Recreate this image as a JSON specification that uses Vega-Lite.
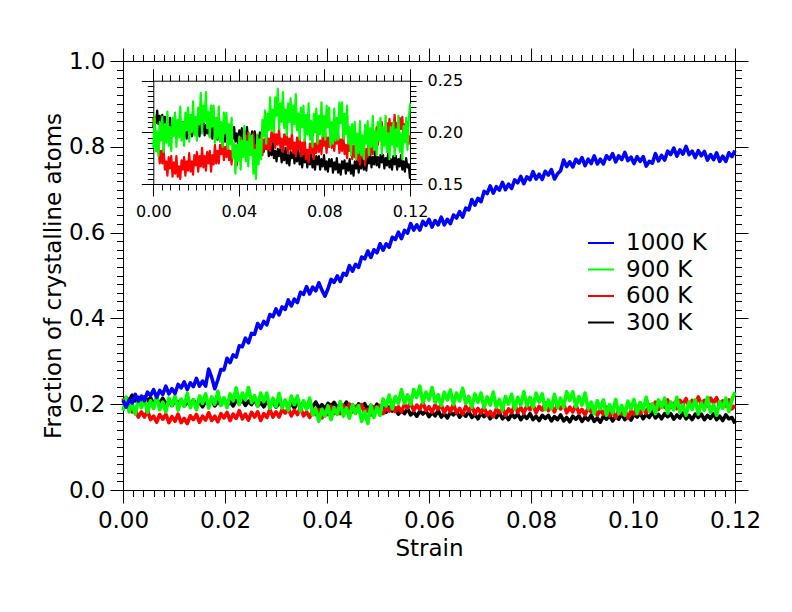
{
  "$schema": "https://vega.github.io/schema/vega-lite/v6.json",
  "width": 612,
  "height": 429,
  "autosize": {"type": "none"},
  "padding": {"left": 123, "top": 61, "right": 57, "bottom": 122},
  "background": "white",
  "config": {
    "view": {"stroke": null},
    "font": "DejaVu Sans",
    "axis": {
      "grid": false,
      "labelFlush": false,
      "labelOverlap": false,
      "labelBound": false,
      "domainColor": "#000000",
      "tickColor": "#000000",
      "labelColor": "#000000",
      "titleColor": "#000000",
      "labelFont": "DejaVu Sans",
      "titleFont": "DejaVu Sans",
      "titleFontWeight": "normal",
      "domainWidth": 1,
      "tickWidth": 1
    }
  },
  "data": {
    "values": [
      {"strain": 0, "1000 K": 0.209, "900 K": 0.185, "600 K": 0.214, "300 K": 0.205},
      {"strain": 0.0006, "1000 K": 0.193, "900 K": 0.216, "600 K": 0.200, "300 K": 0.215},
      {"strain": 0.0012, "1000 K": 0.210, "900 K": 0.182, "600 K": 0.196, "300 K": 0.209},
      {"strain": 0.0018, "1000 K": 0.203, "900 K": 0.201, "600 K": 0.182, "300 K": 0.221},
      {"strain": 0.0024, "1000 K": 0.223, "900 K": 0.177, "600 K": 0.186, "300 K": 0.208},
      {"strain": 0.003, "1000 K": 0.207, "900 K": 0.210, "600 K": 0.170, "300 K": 0.216},
      {"strain": 0.0036, "1000 K": 0.219, "900 K": 0.192, "600 K": 0.182, "300 K": 0.205},
      {"strain": 0.0042, "1000 K": 0.208, "900 K": 0.215, "600 K": 0.170, "300 K": 0.217},
      {"strain": 0.0048, "1000 K": 0.228, "900 K": 0.181, "600 K": 0.185, "300 K": 0.208},
      {"strain": 0.0054, "1000 K": 0.220, "900 K": 0.208, "600 K": 0.164, "300 K": 0.215},
      {"strain": 0.006, "1000 K": 0.234, "900 K": 0.190, "600 K": 0.172, "300 K": 0.201},
      {"strain": 0.0066, "1000 K": 0.216, "900 K": 0.220, "600 K": 0.158, "300 K": 0.210},
      {"strain": 0.0072, "1000 K": 0.232, "900 K": 0.187, "600 K": 0.176, "300 K": 0.203},
      {"strain": 0.0078, "1000 K": 0.223, "900 K": 0.205, "600 K": 0.165, "300 K": 0.214},
      {"strain": 0.0084, "1000 K": 0.242, "900 K": 0.182, "600 K": 0.177, "300 K": 0.200},
      {"strain": 0.009, "1000 K": 0.224, "900 K": 0.214, "600 K": 0.157, "300 K": 0.207},
      {"strain": 0.0096, "1000 K": 0.236, "900 K": 0.197, "600 K": 0.171, "300 K": 0.197},
      {"strain": 0.0102, "1000 K": 0.225, "900 K": 0.219, "600 K": 0.160, "300 K": 0.209},
      {"strain": 0.0108, "1000 K": 0.246, "900 K": 0.186, "600 K": 0.177, "300 K": 0.202},
      {"strain": 0.0114, "1000 K": 0.238, "900 K": 0.212, "600 K": 0.157, "300 K": 0.209},
      {"strain": 0.012, "1000 K": 0.252, "900 K": 0.195, "600 K": 0.167, "300 K": 0.196},
      {"strain": 0.0126, "1000 K": 0.234, "900 K": 0.225, "600 K": 0.155, "300 K": 0.206},
      {"strain": 0.0132, "1000 K": 0.250, "900 K": 0.192, "600 K": 0.173, "300 K": 0.199},
      {"strain": 0.0138, "1000 K": 0.241, "900 K": 0.210, "600 K": 0.164, "300 K": 0.210},
      {"strain": 0.0144, "1000 K": 0.260, "900 K": 0.187, "600 K": 0.176, "300 K": 0.196},
      {"strain": 0.015, "1000 K": 0.242, "900 K": 0.219, "600 K": 0.158, "300 K": 0.204},
      {"strain": 0.0156, "1000 K": 0.254, "900 K": 0.202, "600 K": 0.172, "300 K": 0.194},
      {"strain": 0.0162, "1000 K": 0.242, "900 K": 0.224, "600 K": 0.163, "300 K": 0.207},
      {"strain": 0.0168, "1000 K": 0.282, "900 K": 0.191, "600 K": 0.180, "300 K": 0.201},
      {"strain": 0.0174, "1000 K": 0.262, "900 K": 0.217, "600 K": 0.162, "300 K": 0.209},
      {"strain": 0.018, "1000 K": 0.236, "900 K": 0.200, "600 K": 0.172, "300 K": 0.196},
      {"strain": 0.0186, "1000 K": 0.257, "900 K": 0.230, "600 K": 0.159, "300 K": 0.206},
      {"strain": 0.0192, "1000 K": 0.281, "900 K": 0.197, "600 K": 0.178, "300 K": 0.199},
      {"strain": 0.0198, "1000 K": 0.280, "900 K": 0.215, "600 K": 0.168, "300 K": 0.212},
      {"strain": 0.0204, "1000 K": 0.307, "900 K": 0.192, "600 K": 0.181, "300 K": 0.198},
      {"strain": 0.021, "1000 K": 0.297, "900 K": 0.224, "600 K": 0.162, "300 K": 0.206},
      {"strain": 0.0216, "1000 K": 0.315, "900 K": 0.208, "600 K": 0.177, "300 K": 0.196},
      {"strain": 0.0222, "1000 K": 0.310, "900 K": 0.238, "600 K": 0.167, "300 K": 0.209},
      {"strain": 0.0228, "1000 K": 0.336, "900 K": 0.199, "600 K": 0.185, "300 K": 0.202},
      {"strain": 0.0234, "1000 K": 0.334, "900 K": 0.226, "600 K": 0.166, "300 K": 0.210},
      {"strain": 0.024, "1000 K": 0.354, "900 K": 0.210, "600 K": 0.177, "300 K": 0.197},
      {"strain": 0.0246, "1000 K": 0.343, "900 K": 0.239, "600 K": 0.163, "300 K": 0.207},
      {"strain": 0.0252, "1000 K": 0.365, "900 K": 0.204, "600 K": 0.181, "300 K": 0.199},
      {"strain": 0.0258, "1000 K": 0.363, "900 K": 0.220, "600 K": 0.170, "300 K": 0.211},
      {"strain": 0.0264, "1000 K": 0.388, "900 K": 0.195, "600 K": 0.182, "300 K": 0.196},
      {"strain": 0.027, "1000 K": 0.377, "900 K": 0.226, "600 K": 0.162, "300 K": 0.204},
      {"strain": 0.0276, "1000 K": 0.393, "900 K": 0.206, "600 K": 0.178, "300 K": 0.194},
      {"strain": 0.0282, "1000 K": 0.385, "900 K": 0.226, "600 K": 0.169, "300 K": 0.206},
      {"strain": 0.0288, "1000 K": 0.409, "900 K": 0.190, "600 K": 0.188, "300 K": 0.199},
      {"strain": 0.0294, "1000 K": 0.404, "900 K": 0.214, "600 K": 0.170, "300 K": 0.206},
      {"strain": 0.03, "1000 K": 0.422, "900 K": 0.194, "600 K": 0.182, "300 K": 0.193},
      {"strain": 0.0306, "1000 K": 0.408, "900 K": 0.225, "600 K": 0.170, "300 K": 0.203},
      {"strain": 0.0312, "1000 K": 0.427, "900 K": 0.191, "600 K": 0.188, "300 K": 0.196},
      {"strain": 0.0318, "1000 K": 0.421, "900 K": 0.210, "600 K": 0.179, "300 K": 0.207},
      {"strain": 0.0324, "1000 K": 0.443, "900 K": 0.186, "600 K": 0.191, "300 K": 0.193},
      {"strain": 0.033, "1000 K": 0.429, "900 K": 0.219, "600 K": 0.173, "300 K": 0.201},
      {"strain": 0.0336, "1000 K": 0.445, "900 K": 0.199, "600 K": 0.186, "300 K": 0.191},
      {"strain": 0.0342, "1000 K": 0.437, "900 K": 0.219, "600 K": 0.176, "300 K": 0.204},
      {"strain": 0.0348, "1000 K": 0.461, "900 K": 0.184, "600 K": 0.192, "300 K": 0.196},
      {"strain": 0.0354, "1000 K": 0.456, "900 K": 0.208, "600 K": 0.173, "300 K": 0.204},
      {"strain": 0.036, "1000 K": 0.474, "900 K": 0.188, "600 K": 0.182, "300 K": 0.191},
      {"strain": 0.0366, "1000 K": 0.457, "900 K": 0.214, "600 K": 0.169, "300 K": 0.201},
      {"strain": 0.0372, "1000 K": 0.473, "900 K": 0.175, "600 K": 0.186, "300 K": 0.194},
      {"strain": 0.0378, "1000 K": 0.464, "900 K": 0.189, "600 K": 0.176, "300 K": 0.205},
      {"strain": 0.0384, "1000 K": 0.483, "900 K": 0.160, "600 K": 0.187, "300 K": 0.191},
      {"strain": 0.039, "1000 K": 0.466, "900 K": 0.188, "600 K": 0.168, "300 K": 0.199},
      {"strain": 0.0396, "1000 K": 0.452, "900 K": 0.172, "600 K": 0.184, "300 K": 0.189},
      {"strain": 0.0402, "1000 K": 0.469, "900 K": 0.196, "600 K": 0.176, "300 K": 0.202},
      {"strain": 0.0408, "1000 K": 0.491, "900 K": 0.164, "600 K": 0.195, "300 K": 0.196},
      {"strain": 0.0414, "1000 K": 0.484, "900 K": 0.192, "600 K": 0.178, "300 K": 0.204},
      {"strain": 0.042, "1000 K": 0.499, "900 K": 0.176, "600 K": 0.190, "300 K": 0.191},
      {"strain": 0.0426, "1000 K": 0.486, "900 K": 0.206, "600 K": 0.178, "300 K": 0.201},
      {"strain": 0.0432, "1000 K": 0.505, "900 K": 0.172, "600 K": 0.197, "300 K": 0.193},
      {"strain": 0.0438, "1000 K": 0.501, "900 K": 0.191, "600 K": 0.187, "300 K": 0.205},
      {"strain": 0.0444, "1000 K": 0.523, "900 K": 0.167, "600 K": 0.200, "300 K": 0.190},
      {"strain": 0.045, "1000 K": 0.510, "900 K": 0.199, "600 K": 0.182, "300 K": 0.198},
      {"strain": 0.0456, "1000 K": 0.526, "900 K": 0.178, "600 K": 0.195, "300 K": 0.188},
      {"strain": 0.0462, "1000 K": 0.519, "900 K": 0.197, "600 K": 0.184, "300 K": 0.201},
      {"strain": 0.0468, "1000 K": 0.543, "900 K": 0.160, "600 K": 0.199, "300 K": 0.193},
      {"strain": 0.0474, "1000 K": 0.539, "900 K": 0.183, "600 K": 0.179, "300 K": 0.201},
      {"strain": 0.048, "1000 K": 0.557, "900 K": 0.155, "600 K": 0.188, "300 K": 0.188},
      {"strain": 0.0486, "1000 K": 0.542, "900 K": 0.198, "600 K": 0.175, "300 K": 0.197},
      {"strain": 0.0492, "1000 K": 0.560, "900 K": 0.169, "600 K": 0.194, "300 K": 0.189},
      {"strain": 0.0498, "1000 K": 0.553, "900 K": 0.193, "600 K": 0.184, "300 K": 0.200},
      {"strain": 0.0504, "1000 K": 0.574, "900 K": 0.174, "600 K": 0.197, "300 K": 0.185},
      {"strain": 0.051, "1000 K": 0.559, "900 K": 0.212, "600 K": 0.178, "300 K": 0.192},
      {"strain": 0.0516, "1000 K": 0.574, "900 K": 0.196, "600 K": 0.193, "300 K": 0.181},
      {"strain": 0.0522, "1000 K": 0.566, "900 K": 0.221, "600 K": 0.184, "300 K": 0.193},
      {"strain": 0.0528, "1000 K": 0.589, "900 K": 0.189, "600 K": 0.201, "300 K": 0.184},
      {"strain": 0.0534, "1000 K": 0.584, "900 K": 0.218, "600 K": 0.183, "300 K": 0.191},
      {"strain": 0.054, "1000 K": 0.601, "900 K": 0.202, "600 K": 0.194, "300 K": 0.177},
      {"strain": 0.0546, "1000 K": 0.586, "900 K": 0.234, "600 K": 0.182, "300 K": 0.186},
      {"strain": 0.0552, "1000 K": 0.605, "900 K": 0.202, "600 K": 0.200, "300 K": 0.178},
      {"strain": 0.0558, "1000 K": 0.599, "900 K": 0.222, "600 K": 0.191, "300 K": 0.190},
      {"strain": 0.0564, "1000 K": 0.621, "900 K": 0.200, "600 K": 0.203, "300 K": 0.175},
      {"strain": 0.057, "1000 K": 0.606, "900 K": 0.234, "600 K": 0.185, "300 K": 0.182},
      {"strain": 0.0576, "1000 K": 0.618, "900 K": 0.216, "600 K": 0.198, "300 K": 0.172},
      {"strain": 0.0582, "1000 K": 0.606, "900 K": 0.242, "600 K": 0.188, "300 K": 0.184},
      {"strain": 0.0588, "1000 K": 0.626, "900 K": 0.203, "600 K": 0.204, "300 K": 0.177},
      {"strain": 0.0594, "1000 K": 0.617, "900 K": 0.228, "600 K": 0.185, "300 K": 0.184},
      {"strain": 0.06, "1000 K": 0.631, "900 K": 0.210, "600 K": 0.194, "300 K": 0.171},
      {"strain": 0.0606, "1000 K": 0.613, "900 K": 0.239, "600 K": 0.181, "300 K": 0.181},
      {"strain": 0.0612, "1000 K": 0.628, "900 K": 0.204, "600 K": 0.198, "300 K": 0.173},
      {"strain": 0.0618, "1000 K": 0.618, "900 K": 0.222, "600 K": 0.188, "300 K": 0.185},
      {"strain": 0.0624, "1000 K": 0.636, "900 K": 0.197, "600 K": 0.199, "300 K": 0.170},
      {"strain": 0.063, "1000 K": 0.618, "900 K": 0.228, "600 K": 0.180, "300 K": 0.178},
      {"strain": 0.0636, "1000 K": 0.631, "900 K": 0.210, "600 K": 0.194, "300 K": 0.168},
      {"strain": 0.0642, "1000 K": 0.621, "900 K": 0.233, "600 K": 0.183, "300 K": 0.181},
      {"strain": 0.0648, "1000 K": 0.641, "900 K": 0.199, "600 K": 0.200, "300 K": 0.175},
      {"strain": 0.0654, "1000 K": 0.634, "900 K": 0.226, "600 K": 0.180, "300 K": 0.183},
      {"strain": 0.066, "1000 K": 0.649, "900 K": 0.208, "600 K": 0.190, "300 K": 0.170},
      {"strain": 0.0666, "1000 K": 0.636, "900 K": 0.237, "600 K": 0.177, "300 K": 0.179},
      {"strain": 0.0672, "1000 K": 0.657, "900 K": 0.202, "600 K": 0.195, "300 K": 0.172},
      {"strain": 0.0678, "1000 K": 0.653, "900 K": 0.218, "600 K": 0.184, "300 K": 0.183},
      {"strain": 0.0684, "1000 K": 0.677, "900 K": 0.193, "600 K": 0.196, "300 K": 0.169},
      {"strain": 0.069, "1000 K": 0.664, "900 K": 0.224, "600 K": 0.177, "300 K": 0.176},
      {"strain": 0.0696, "1000 K": 0.680, "900 K": 0.205, "600 K": 0.190, "300 K": 0.166},
      {"strain": 0.0702, "1000 K": 0.672, "900 K": 0.226, "600 K": 0.179, "300 K": 0.179},
      {"strain": 0.0708, "1000 K": 0.696, "900 K": 0.192, "600 K": 0.194, "300 K": 0.171},
      {"strain": 0.0714, "1000 K": 0.691, "900 K": 0.217, "600 K": 0.174, "300 K": 0.179},
      {"strain": 0.072, "1000 K": 0.709, "900 K": 0.198, "600 K": 0.183, "300 K": 0.166},
      {"strain": 0.0726, "1000 K": 0.692, "900 K": 0.228, "600 K": 0.171, "300 K": 0.176},
      {"strain": 0.0732, "1000 K": 0.707, "900 K": 0.193, "600 K": 0.189, "300 K": 0.169},
      {"strain": 0.0738, "1000 K": 0.699, "900 K": 0.211, "600 K": 0.180, "300 K": 0.180},
      {"strain": 0.0744, "1000 K": 0.717, "900 K": 0.186, "600 K": 0.192, "300 K": 0.166},
      {"strain": 0.075, "1000 K": 0.700, "900 K": 0.218, "600 K": 0.174, "300 K": 0.174},
      {"strain": 0.0756, "1000 K": 0.713, "900 K": 0.200, "600 K": 0.189, "300 K": 0.164},
      {"strain": 0.0762, "1000 K": 0.703, "900 K": 0.223, "600 K": 0.180, "300 K": 0.177},
      {"strain": 0.0768, "1000 K": 0.723, "900 K": 0.189, "600 K": 0.199, "300 K": 0.169},
      {"strain": 0.0774, "1000 K": 0.716, "900 K": 0.216, "600 K": 0.181, "300 K": 0.177},
      {"strain": 0.078, "1000 K": 0.731, "900 K": 0.198, "600 K": 0.192, "300 K": 0.164},
      {"strain": 0.0786, "1000 K": 0.714, "900 K": 0.229, "600 K": 0.179, "300 K": 0.174},
      {"strain": 0.0792, "1000 K": 0.730, "900 K": 0.196, "600 K": 0.197, "300 K": 0.167},
      {"strain": 0.0798, "1000 K": 0.723, "900 K": 0.216, "600 K": 0.187, "300 K": 0.178},
      {"strain": 0.0804, "1000 K": 0.742, "900 K": 0.193, "600 K": 0.199, "300 K": 0.164},
      {"strain": 0.081, "1000 K": 0.725, "900 K": 0.226, "600 K": 0.180, "300 K": 0.172},
      {"strain": 0.0816, "1000 K": 0.736, "900 K": 0.205, "600 K": 0.195, "300 K": 0.162},
      {"strain": 0.0822, "1000 K": 0.724, "900 K": 0.224, "600 K": 0.186, "300 K": 0.174},
      {"strain": 0.0828, "1000 K": 0.743, "900 K": 0.187, "600 K": 0.203, "300 K": 0.167},
      {"strain": 0.0834, "1000 K": 0.734, "900 K": 0.210, "600 K": 0.185, "300 K": 0.174},
      {"strain": 0.084, "1000 K": 0.747, "900 K": 0.189, "600 K": 0.196, "300 K": 0.161},
      {"strain": 0.0846, "1000 K": 0.725, "900 K": 0.223, "600 K": 0.182, "300 K": 0.171},
      {"strain": 0.0852, "1000 K": 0.737, "900 K": 0.192, "600 K": 0.199, "300 K": 0.164},
      {"strain": 0.0858, "1000 K": 0.744, "900 K": 0.214, "600 K": 0.189, "300 K": 0.175},
      {"strain": 0.0864, "1000 K": 0.769, "900 K": 0.193, "600 K": 0.200, "300 K": 0.161},
      {"strain": 0.087, "1000 K": 0.754, "900 K": 0.229, "600 K": 0.180, "300 K": 0.169},
      {"strain": 0.0876, "1000 K": 0.765, "900 K": 0.209, "600 K": 0.193, "300 K": 0.159},
      {"strain": 0.0882, "1000 K": 0.753, "900 K": 0.229, "600 K": 0.182, "300 K": 0.172},
      {"strain": 0.0888, "1000 K": 0.771, "900 K": 0.194, "600 K": 0.199, "300 K": 0.165},
      {"strain": 0.0894, "1000 K": 0.762, "900 K": 0.218, "600 K": 0.179, "300 K": 0.173},
      {"strain": 0.09, "1000 K": 0.775, "900 K": 0.198, "600 K": 0.188, "300 K": 0.160},
      {"strain": 0.0906, "1000 K": 0.756, "900 K": 0.226, "600 K": 0.175, "300 K": 0.170},
      {"strain": 0.0912, "1000 K": 0.771, "900 K": 0.189, "600 K": 0.192, "300 K": 0.163},
      {"strain": 0.0918, "1000 K": 0.761, "900 K": 0.205, "600 K": 0.182, "300 K": 0.174},
      {"strain": 0.0924, "1000 K": 0.779, "900 K": 0.178, "600 K": 0.193, "300 K": 0.160},
      {"strain": 0.093, "1000 K": 0.760, "900 K": 0.208, "600 K": 0.174, "300 K": 0.168},
      {"strain": 0.0936, "1000 K": 0.771, "900 K": 0.189, "600 K": 0.187, "300 K": 0.158},
      {"strain": 0.0942, "1000 K": 0.760, "900 K": 0.210, "600 K": 0.176, "300 K": 0.172},
      {"strain": 0.0948, "1000 K": 0.779, "900 K": 0.174, "600 K": 0.193, "300 K": 0.165},
      {"strain": 0.0954, "1000 K": 0.771, "900 K": 0.199, "600 K": 0.173, "300 K": 0.174},
      {"strain": 0.096, "1000 K": 0.784, "900 K": 0.180, "600 K": 0.182, "300 K": 0.161},
      {"strain": 0.0966, "1000 K": 0.765, "900 K": 0.211, "600 K": 0.169, "300 K": 0.172},
      {"strain": 0.0972, "1000 K": 0.779, "900 K": 0.178, "600 K": 0.186, "300 K": 0.165},
      {"strain": 0.0978, "1000 K": 0.770, "900 K": 0.197, "600 K": 0.176, "300 K": 0.178},
      {"strain": 0.0984, "1000 K": 0.787, "900 K": 0.174, "600 K": 0.187, "300 K": 0.164},
      {"strain": 0.099, "1000 K": 0.768, "900 K": 0.207, "600 K": 0.168, "300 K": 0.173},
      {"strain": 0.0996, "1000 K": 0.776, "900 K": 0.189, "600 K": 0.184, "300 K": 0.163},
      {"strain": 0.1002, "1000 K": 0.761, "900 K": 0.211, "600 K": 0.176, "300 K": 0.177},
      {"strain": 0.1008, "1000 K": 0.777, "900 K": 0.178, "600 K": 0.195, "300 K": 0.170},
      {"strain": 0.1014, "1000 K": 0.766, "900 K": 0.204, "600 K": 0.178, "300 K": 0.179},
      {"strain": 0.102, "1000 K": 0.777, "900 K": 0.186, "600 K": 0.190, "300 K": 0.166},
      {"strain": 0.1026, "1000 K": 0.755, "900 K": 0.216, "600 K": 0.179, "300 K": 0.176},
      {"strain": 0.1032, "1000 K": 0.766, "900 K": 0.183, "600 K": 0.199, "300 K": 0.169},
      {"strain": 0.1038, "1000 K": 0.762, "900 K": 0.201, "600 K": 0.191, "300 K": 0.182},
      {"strain": 0.1044, "1000 K": 0.784, "900 K": 0.178, "600 K": 0.205, "300 K": 0.168},
      {"strain": 0.105, "1000 K": 0.767, "900 K": 0.210, "600 K": 0.188, "300 K": 0.176},
      {"strain": 0.1056, "1000 K": 0.780, "900 K": 0.192, "600 K": 0.202, "300 K": 0.166},
      {"strain": 0.1062, "1000 K": 0.769, "900 K": 0.214, "600 K": 0.193, "300 K": 0.178},
      {"strain": 0.1068, "1000 K": 0.790, "900 K": 0.179, "600 K": 0.210, "300 K": 0.171},
      {"strain": 0.1074, "1000 K": 0.782, "900 K": 0.205, "600 K": 0.192, "300 K": 0.178},
      {"strain": 0.108, "1000 K": 0.797, "900 K": 0.187, "600 K": 0.202, "300 K": 0.165},
      {"strain": 0.1086, "1000 K": 0.778, "900 K": 0.216, "600 K": 0.190, "300 K": 0.175},
      {"strain": 0.1092, "1000 K": 0.793, "900 K": 0.181, "600 K": 0.209, "300 K": 0.168},
      {"strain": 0.1098, "1000 K": 0.783, "900 K": 0.199, "600 K": 0.200, "300 K": 0.180},
      {"strain": 0.1104, "1000 K": 0.801, "900 K": 0.174, "600 K": 0.213, "300 K": 0.166},
      {"strain": 0.111, "1000 K": 0.782, "900 K": 0.205, "600 K": 0.195, "300 K": 0.174},
      {"strain": 0.1116, "1000 K": 0.790, "900 K": 0.188, "600 K": 0.209, "300 K": 0.164},
      {"strain": 0.1122, "1000 K": 0.775, "900 K": 0.210, "600 K": 0.200, "300 K": 0.177},
      {"strain": 0.1128, "1000 K": 0.791, "900 K": 0.177, "600 K": 0.217, "300 K": 0.169},
      {"strain": 0.1134, "1000 K": 0.779, "900 K": 0.203, "600 K": 0.199, "300 K": 0.177},
      {"strain": 0.114, "1000 K": 0.789, "900 K": 0.186, "600 K": 0.209, "300 K": 0.164},
      {"strain": 0.1146, "1000 K": 0.769, "900 K": 0.216, "600 K": 0.196, "300 K": 0.174},
      {"strain": 0.1152, "1000 K": 0.782, "900 K": 0.181, "600 K": 0.214, "300 K": 0.167},
      {"strain": 0.1158, "1000 K": 0.770, "900 K": 0.199, "600 K": 0.203, "300 K": 0.178},
      {"strain": 0.1164, "1000 K": 0.786, "900 K": 0.174, "600 K": 0.215, "300 K": 0.164},
      {"strain": 0.117, "1000 K": 0.766, "900 K": 0.206, "600 K": 0.196, "300 K": 0.172},
      {"strain": 0.1176, "1000 K": 0.778, "900 K": 0.190, "600 K": 0.208, "300 K": 0.162},
      {"strain": 0.1182, "1000 K": 0.766, "900 K": 0.214, "600 K": 0.196, "300 K": 0.175},
      {"strain": 0.1188, "1000 K": 0.786, "900 K": 0.183, "600 K": 0.210, "300 K": 0.166},
      {"strain": 0.1194, "1000 K": 0.777, "900 K": 0.211, "600 K": 0.189, "300 K": 0.169},
      {"strain": 0.12, "1000 K": 0.791, "900 K": 0.228, "600 K": 0.197, "300 K": 0.155}
    ]
  },
  "transform": [
    {"fold": ["300 K", "600 K", "900 K", "1000 K"], "as": ["temp", "frac"]}
  ],
  "resolve": {
    "scale": {"x": "independent", "y": "independent"},
    "axis": {"x": "independent", "y": "independent"}
  },
  "layer": [
    {
      "mark": {"type": "line", "strokeWidth": 3.6, "strokeJoin": "round"},
      "encoding": {
        "x": {
          "field": "strain",
          "type": "quantitative",
          "scale": {"domain": [0, 0.12], "nice": false, "zero": false},
          "axis": {
            "orient": "bottom",
            "title": "Strain",
            "titleFontSize": 23,
            "titleY": 65,
            "titleBaseline": "alphabetic",
            "values": [0, 0.02, 0.04, 0.06, 0.08, 0.1, 0.12],
            "format": ".2f",
            "tickSize": 13,
            "labelFontSize": 23,
            "labelPadding": 6
          }
        },
        "y": {
          "field": "frac",
          "type": "quantitative",
          "scale": {"domain": [0, 1], "nice": false, "zero": false},
          "axis": {
            "orient": "left",
            "title": "Fraction of crystalline atoms",
            "titleFontSize": 23,
            "titleX": -63,
            "titleY": 214.5,
            "titleBaseline": "alphabetic",
            "values": [0, 0.2, 0.4, 0.6, 0.8, 1],
            "format": ".1f",
            "tickSize": 13,
            "labelFontSize": 23,
            "labelPadding": 5
          }
        },
        "color": {
          "field": "temp",
          "type": "nominal",
          "scale": {
            "domain": ["1000 K", "900 K", "600 K", "300 K"],
            "range": ["#0000ff", "#00ff00", "#ff0000", "#000000"]
          },
          "legend": {
            "title": null,
            "orient": "none",
            "legendX": 464,
            "legendY": 168,
            "padding": 0,
            "symbolType": "stroke",
            "symbolSize": 676,
            "symbolStrokeWidth": 2,
            "labelFont": "DejaVu Sans",
            "labelFontSize": 23,
            "labelColor": "#000000",
            "labelOffset": 11,
            "rowPadding": 0.5
          }
        }
      }
    },
    {
      "transform": [{"filter": "datum.strain === 0"}],
      "mark": {"type": "point", "opacity": 0},
      "encoding": {
        "x": {
          "field": "strain",
          "type": "quantitative",
          "scale": {"domain": [0, 0.12], "nice": false, "zero": false},
          "axis": {
            "orient": "bottom",
            "title": null,
            "labels": false,
            "domain": false,
            "tickSize": 6.5,
            "values": [0, 0.002, 0.004, 0.006, 0.008, 0.01, 0.012, 0.014, 0.016, 0.018, 0.02, 0.022, 0.024, 0.026, 0.028, 0.03, 0.032, 0.034, 0.036, 0.038, 0.04, 0.042, 0.044, 0.046, 0.048, 0.05, 0.052, 0.054, 0.056, 0.058, 0.06, 0.062, 0.064, 0.066, 0.068, 0.07, 0.072, 0.074, 0.076, 0.078, 0.08, 0.082, 0.084, 0.086, 0.088, 0.09, 0.092, 0.094, 0.096, 0.098, 0.1, 0.102, 0.104, 0.106, 0.108, 0.11, 0.112, 0.114, 0.116, 0.118, 0.12]
          }
        },
        "y": {
          "field": "frac",
          "type": "quantitative",
          "scale": {"domain": [0, 1], "nice": false, "zero": false},
          "axis": {
            "orient": "left",
            "title": null,
            "labels": false,
            "domain": false,
            "tickSize": 6.5,
            "values": [0, 0.02, 0.04, 0.06, 0.08, 0.1, 0.12, 0.14, 0.16, 0.18, 0.2, 0.22, 0.24, 0.26, 0.28, 0.3, 0.32, 0.34, 0.36, 0.38, 0.4, 0.42, 0.44, 0.46, 0.48, 0.5, 0.52, 0.54, 0.56, 0.58, 0.6, 0.62, 0.64, 0.66, 0.68, 0.7, 0.72, 0.74, 0.76, 0.78, 0.8, 0.82, 0.84, 0.86, 0.88, 0.9, 0.92, 0.94, 0.96, 0.98, 1]
          }
        }
      }
    },
    {
      "transform": [{"filter": "datum.strain === 0"}],
      "mark": {"type": "point", "opacity": 0},
      "encoding": {
        "x": {
          "field": "strain",
          "type": "quantitative",
          "scale": {"domain": [0, 0.12], "nice": false, "zero": false},
          "axis": {
            "orient": "top",
            "title": null,
            "labels": false,
            "tickSize": 13,
            "values": [0, 0.02, 0.04, 0.06, 0.08, 0.1, 0.12]
          }
        },
        "y": {
          "field": "frac",
          "type": "quantitative",
          "scale": {"domain": [0, 1], "nice": false, "zero": false},
          "axis": {
            "orient": "right",
            "title": null,
            "labels": false,
            "tickSize": 13,
            "values": [0, 0.2, 0.4, 0.6, 0.8, 1]
          }
        }
      }
    },
    {
      "transform": [{"filter": "datum.strain === 0"}],
      "mark": {"type": "point", "opacity": 0},
      "encoding": {
        "x": {
          "field": "strain",
          "type": "quantitative",
          "scale": {"domain": [0, 0.12], "nice": false, "zero": false},
          "axis": {
            "orient": "top",
            "title": null,
            "labels": false,
            "domain": false,
            "tickSize": 6.5,
            "values": [0, 0.002, 0.004, 0.006, 0.008, 0.01, 0.012, 0.014, 0.016, 0.018, 0.02, 0.022, 0.024, 0.026, 0.028, 0.03, 0.032, 0.034, 0.036, 0.038, 0.04, 0.042, 0.044, 0.046, 0.048, 0.05, 0.052, 0.054, 0.056, 0.058, 0.06, 0.062, 0.064, 0.066, 0.068, 0.07, 0.072, 0.074, 0.076, 0.078, 0.08, 0.082, 0.084, 0.086, 0.088, 0.09, 0.092, 0.094, 0.096, 0.098, 0.1, 0.102, 0.104, 0.106, 0.108, 0.11, 0.112, 0.114, 0.116, 0.118, 0.12]
          }
        },
        "y": {
          "field": "frac",
          "type": "quantitative",
          "scale": {"domain": [0, 1], "nice": false, "zero": false},
          "axis": {
            "orient": "right",
            "title": null,
            "labels": false,
            "domain": false,
            "tickSize": 6.5,
            "values": [0, 0.02, 0.04, 0.06, 0.08, 0.1, 0.12, 0.14, 0.16, 0.18, 0.2, 0.22, 0.24, 0.26, 0.28, 0.3, 0.32, 0.34, 0.36, 0.38, 0.4, 0.42, 0.44, 0.46, 0.48, 0.5, 0.52, 0.54, 0.56, 0.58, 0.6, 0.62, 0.64, 0.66, 0.68, 0.7, 0.72, 0.74, 0.76, 0.78, 0.8, 0.82, 0.84, 0.86, 0.88, 0.9, 0.92, 0.94, 0.96, 0.98, 1]
          }
        }
      }
    },
    {
      "transform": [{"filter": {"field": "temp", "oneOf": ["300 K", "600 K", "900 K"]}}],
      "mark": {"type": "line", "strokeWidth": 2.2, "strokeJoin": "round"},
      "encoding": {
        "x": {
          "field": "strain",
          "type": "quantitative",
          "scale": {"domain": [0, 0.12], "range": [30.3, 287], "nice": false, "zero": false},
          "axis": {
            "orient": "bottom",
            "offset": -306,
            "title": null,
            "values": [0, 0.04, 0.08, 0.12],
            "format": ".2f",
            "tickSize": 12,
            "labelFontSize": 16,
            "labelPadding": 7
          }
        },
        "y": {
          "field": "frac",
          "type": "quantitative",
          "scale": {"domain": [0.15, 0.25], "range": [123, 19.7], "nice": false, "zero": false},
          "axis": {
            "orient": "right",
            "offset": -325,
            "title": null,
            "values": [0.15, 0.2, 0.25],
            "format": ".2f",
            "tickSize": 12,
            "labelFontSize": 16,
            "labelPadding": 5
          }
        },
        "color": {"field": "temp", "type": "nominal", "legend": null}
      }
    },
    {
      "transform": [{"filter": "datum.strain === 0"}],
      "mark": {"type": "point", "opacity": 0},
      "encoding": {
        "x": {
          "field": "strain",
          "type": "quantitative",
          "scale": {"domain": [0, 0.12], "range": [30.3, 287], "nice": false, "zero": false},
          "axis": {
            "orient": "bottom",
            "offset": -306,
            "title": null,
            "labels": false,
            "domain": false,
            "tickSize": 6,
            "values": [0, 0.004, 0.008, 0.012, 0.016, 0.02, 0.024, 0.028, 0.032, 0.036, 0.04, 0.044, 0.048, 0.052, 0.056, 0.06, 0.064, 0.068, 0.072, 0.076, 0.08, 0.084, 0.088, 0.092, 0.096, 0.1, 0.104, 0.108, 0.112, 0.116, 0.12]
          }
        },
        "y": {
          "field": "frac",
          "type": "quantitative",
          "scale": {"domain": [0.15, 0.25], "range": [123, 19.7], "nice": false, "zero": false},
          "axis": {
            "orient": "right",
            "offset": -325,
            "title": null,
            "labels": false,
            "domain": false,
            "tickSize": 6,
            "values": [0.15, 0.155, 0.16, 0.165, 0.17, 0.175, 0.18, 0.185, 0.19, 0.195, 0.2, 0.205, 0.21, 0.215, 0.22, 0.225, 0.23, 0.235, 0.24, 0.245, 0.25]
          }
        }
      }
    },
    {
      "transform": [{"filter": "datum.strain === 0"}],
      "mark": {"type": "point", "opacity": 0},
      "encoding": {
        "x": {
          "field": "strain",
          "type": "quantitative",
          "scale": {"domain": [0, 0.12], "range": [30.3, 287], "nice": false, "zero": false},
          "axis": {
            "orient": "top",
            "offset": -19.7,
            "title": null,
            "labels": false,
            "tickSize": 12,
            "values": [0, 0.04, 0.08, 0.12]
          }
        },
        "y": {
          "field": "frac",
          "type": "quantitative",
          "scale": {"domain": [0.15, 0.25], "range": [123, 19.7], "nice": false, "zero": false},
          "axis": {
            "orient": "left",
            "offset": -30.3,
            "title": null,
            "labels": false,
            "tickSize": 12,
            "values": [0.15, 0.2, 0.25]
          }
        }
      }
    },
    {
      "transform": [{"filter": "datum.strain === 0"}],
      "mark": {"type": "point", "opacity": 0},
      "encoding": {
        "x": {
          "field": "strain",
          "type": "quantitative",
          "scale": {"domain": [0, 0.12], "range": [30.3, 287], "nice": false, "zero": false},
          "axis": {
            "orient": "top",
            "offset": -19.7,
            "title": null,
            "labels": false,
            "domain": false,
            "tickSize": 6,
            "values": [0, 0.004, 0.008, 0.012, 0.016, 0.02, 0.024, 0.028, 0.032, 0.036, 0.04, 0.044, 0.048, 0.052, 0.056, 0.06, 0.064, 0.068, 0.072, 0.076, 0.08, 0.084, 0.088, 0.092, 0.096, 0.1, 0.104, 0.108, 0.112, 0.116, 0.12]
          }
        },
        "y": {
          "field": "frac",
          "type": "quantitative",
          "scale": {"domain": [0.15, 0.25], "range": [123, 19.7], "nice": false, "zero": false},
          "axis": {
            "orient": "left",
            "offset": -30.3,
            "title": null,
            "labels": false,
            "domain": false,
            "tickSize": 6,
            "values": [0.15, 0.155, 0.16, 0.165, 0.17, 0.175, 0.18, 0.185, 0.19, 0.195, 0.2, 0.205, 0.21, 0.215, 0.22, 0.225, 0.23, 0.235, 0.24, 0.245, 0.25]
          }
        }
      }
    }
  ]
}
